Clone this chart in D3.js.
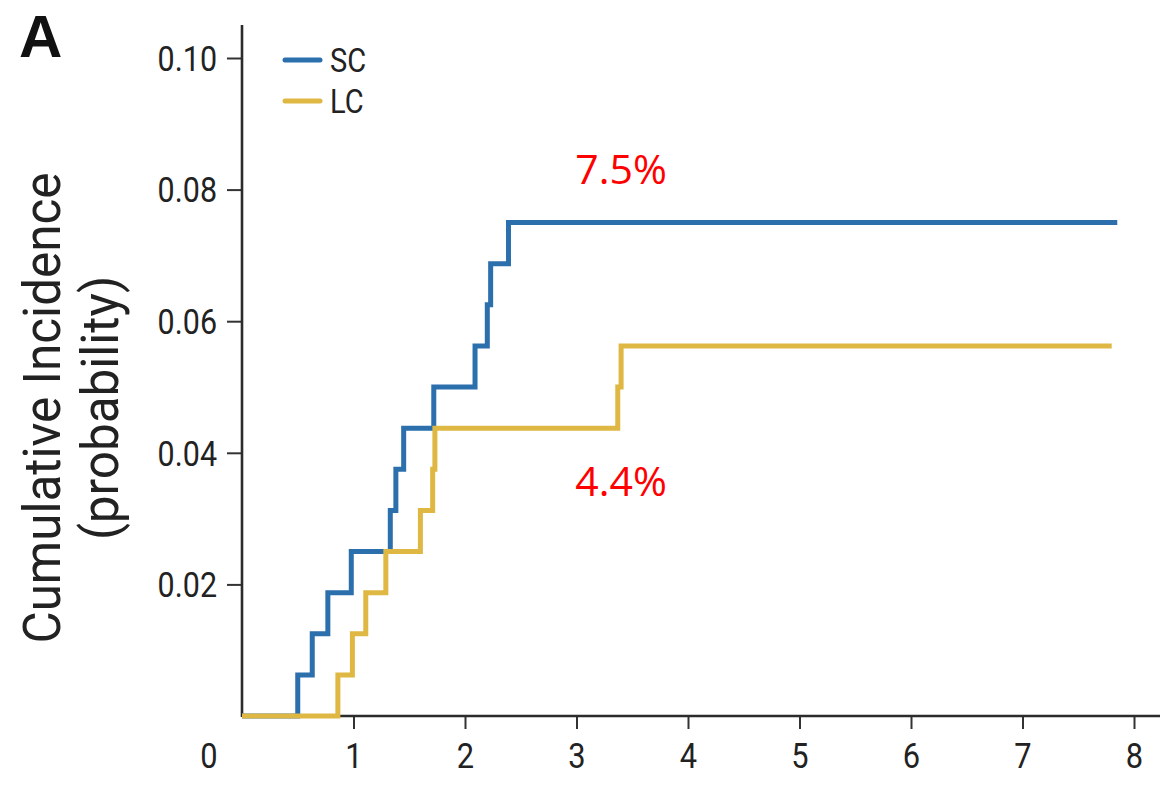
<!DOCTYPE html>
<html>
<head>
<meta charset="utf-8">
<script src="https://cdn.jsdelivr.net/npm/d3@7/dist/d3.min.js"></script>
<style>
  html, body { margin: 0; padding: 0; background: #fff; }
  svg { display: block; }
</style>
</head>
<body>
<svg id="chart" width="1170" height="802"></svg>
<script>
// Cumulative incidence by group (years of follow-up vs probability)
const scTimes  = [0, 0.50, 0.63, 0.77, 0.98, 1.33, 1.38, 1.45, 1.72, 2.09, 2.20, 2.23, 2.39, 7.85];
const scValues = [0, 0.00625, 0.0125, 0.01875, 0.025, 0.03125, 0.0375, 0.04375, 0.05, 0.05625, 0.0625, 0.06875, 0.075, 0.075];

const lcTimes  = [0, 0.86, 0.99, 1.11, 1.29, 1.60, 1.71, 1.73, 3.37, 3.40, 7.80];
const lcValues = [0, 0.00625, 0.0125, 0.01875, 0.025, 0.03125, 0.0375, 0.04375, 0.05, 0.05625, 0.05625];

const seriesNames = ["SC", "LC"];
const xTicks = [1, 2, 3, 4, 5, 6, 7, 8];
const yTicks = [0.02, 0.04, 0.06, 0.08, 0.10];
const originLabel = "0";
const annotations = [
  { text: "7.5%", t: 3.4, v: 0.075 },
  { text: "4.4%", t: 3.4, v: 0.04375 }
];

const svg = d3.select("#chart");
const font = "Roboto, 'Liberation Sans', Arial, sans-serif";

// narrow the glyphs horizontally to get a condensed face
function squeeze(sel, factor) {
  sel.each(function () {
    const w = this.getComputedTextLength();
    d3.select(this)
      .attr("textLength", w * factor)
      .attr("lengthAdjust", "spacingAndGlyphs");
  });
}

const x = d3.scaleLinear().domain([0, 8]).range([242, 1134]);
const y = d3.scaleLinear().domain([0, 0.10]).range([716, 58]);

const colors = { SC: "#2c6fad", LC: "#dfb843" };

// axes
const xAxis = svg.append("g")
  .attr("transform", `translate(0,${y(0)})`)
  .call(d3.axisBottom(x).tickValues(xTicks).tickSize(13).tickPadding(14).tickFormat(d3.format("d")));
xAxis.select(".domain").remove();
xAxis.append("line")
  .attr("x1", x(0)).attr("x2", 1160).attr("y1", 0).attr("y2", 0)
  .attr("stroke", "#2b2b2b").attr("stroke-width", 2.6);

const yAxis = svg.append("g")
  .attr("transform", `translate(${x(0)},0)`)
  .call(d3.axisLeft(y).tickValues(yTicks).tickSize(15).tickPadding(10).tickFormat(d3.format(".2f")));
yAxis.select(".domain").remove();
yAxis.append("line")
  .attr("x1", 0).attr("x2", 0).attr("y1", y(0) + 1).attr("y2", y(0.105))
  .attr("stroke", "#2b2b2b").attr("stroke-width", 2.6);

[xAxis, yAxis].forEach(g => {
  g.selectAll(".tick line").attr("stroke", "#333").attr("stroke-width", 2);
  g.selectAll(".tick text")
    .attr("fill", "#222")
    .style("font-family", font)
    .style("font-size", "35px");
});
xAxis.selectAll(".tick text").attr("dy", "0.71em");
yAxis.selectAll(".tick text").attr("dy", "0.35em");
squeeze(xAxis.selectAll(".tick text"), 0.88);
squeeze(yAxis.selectAll(".tick text"), 0.87);

svg.append("text")
  .attr("x", x(0) - 33).attr("y", y(0) + 27).attr("dy", "0.71em")
  .attr("text-anchor", "middle")
  .attr("fill", "#222")
  .style("font-family", font).style("font-size", "35px")
  .text(originLabel)
  .call(squeeze, 0.88);

// y-axis title (two lines)
const yTitle = svg.append("text")
  .attr("transform", "translate(0,408) rotate(-90)")
  .attr("text-anchor", "middle")
  .attr("fill", "#222")
  .style("font-family", font)
  .style("font-size", "52px");
yTitle.append("tspan").attr("x", 0).attr("y", 60).text("Cumulative Incidence");
yTitle.append("tspan").attr("x", 0).attr("y", 118).text("(probability)");
squeeze(yTitle.selectAll("tspan"), 0.95);

// panel letter
svg.append("text")
  .attr("x", 19).attr("y", 57)
  .attr("fill", "#111")
  .style("font-family", "'Liberation Sans', Arial, sans-serif")
  .style("font-weight", "bold")
  .style("font-size", "60px")
  .text("A");

// step curves
const line = d3.line().curve(d3.curveStepAfter)
  .x(d => x(d[0])).y(d => y(d[1]));

const data = {
  SC: scTimes.map((t, i) => [t, scValues[i]]),
  LC: lcTimes.map((t, i) => [t, lcValues[i]])
};

["SC", "LC"].forEach(k => {
  svg.append("path")
    .datum(data[k])
    .attr("d", line)
    .attr("fill", "none")
    .attr("stroke", colors[k])
    .attr("stroke-width", 5)
    .attr("stroke-linejoin", "miter");
});

// legend
const legend = svg.append("g");
seriesNames.forEach((name, i) => {
  const ly = 60 + i * 41;
  legend.append("line")
    .attr("x1", 285).attr("x2", 320).attr("y1", ly).attr("y2", ly)
    .attr("stroke", colors[name]).attr("stroke-width", 5).attr("stroke-linecap", "round");
  legend.append("text")
    .attr("x", 330).attr("y", ly).attr("dy", "0.36em")
    .attr("fill", "#222")
    .style("font-family", font).style("font-size", "33px")
    .text(name)
    .call(squeeze, 0.88);
});

// value annotations
svg.selectAll(".annot")
  .data(annotations)
  .enter().append("text")
  .attr("class", "annot")
  .attr("x", d => x(d.t))
  .attr("y", (d, i) => i === 0 ? y(d.v) - 39 : y(d.v) + 68)
  .attr("text-anchor", "middle")
  .attr("fill", "#ff0000")
  .style("font-family", "'Open Sans', 'Noto Sans', sans-serif")
  .style("font-size", "41px")
  .text(d => d.text);
</script>
</body>
</html>
